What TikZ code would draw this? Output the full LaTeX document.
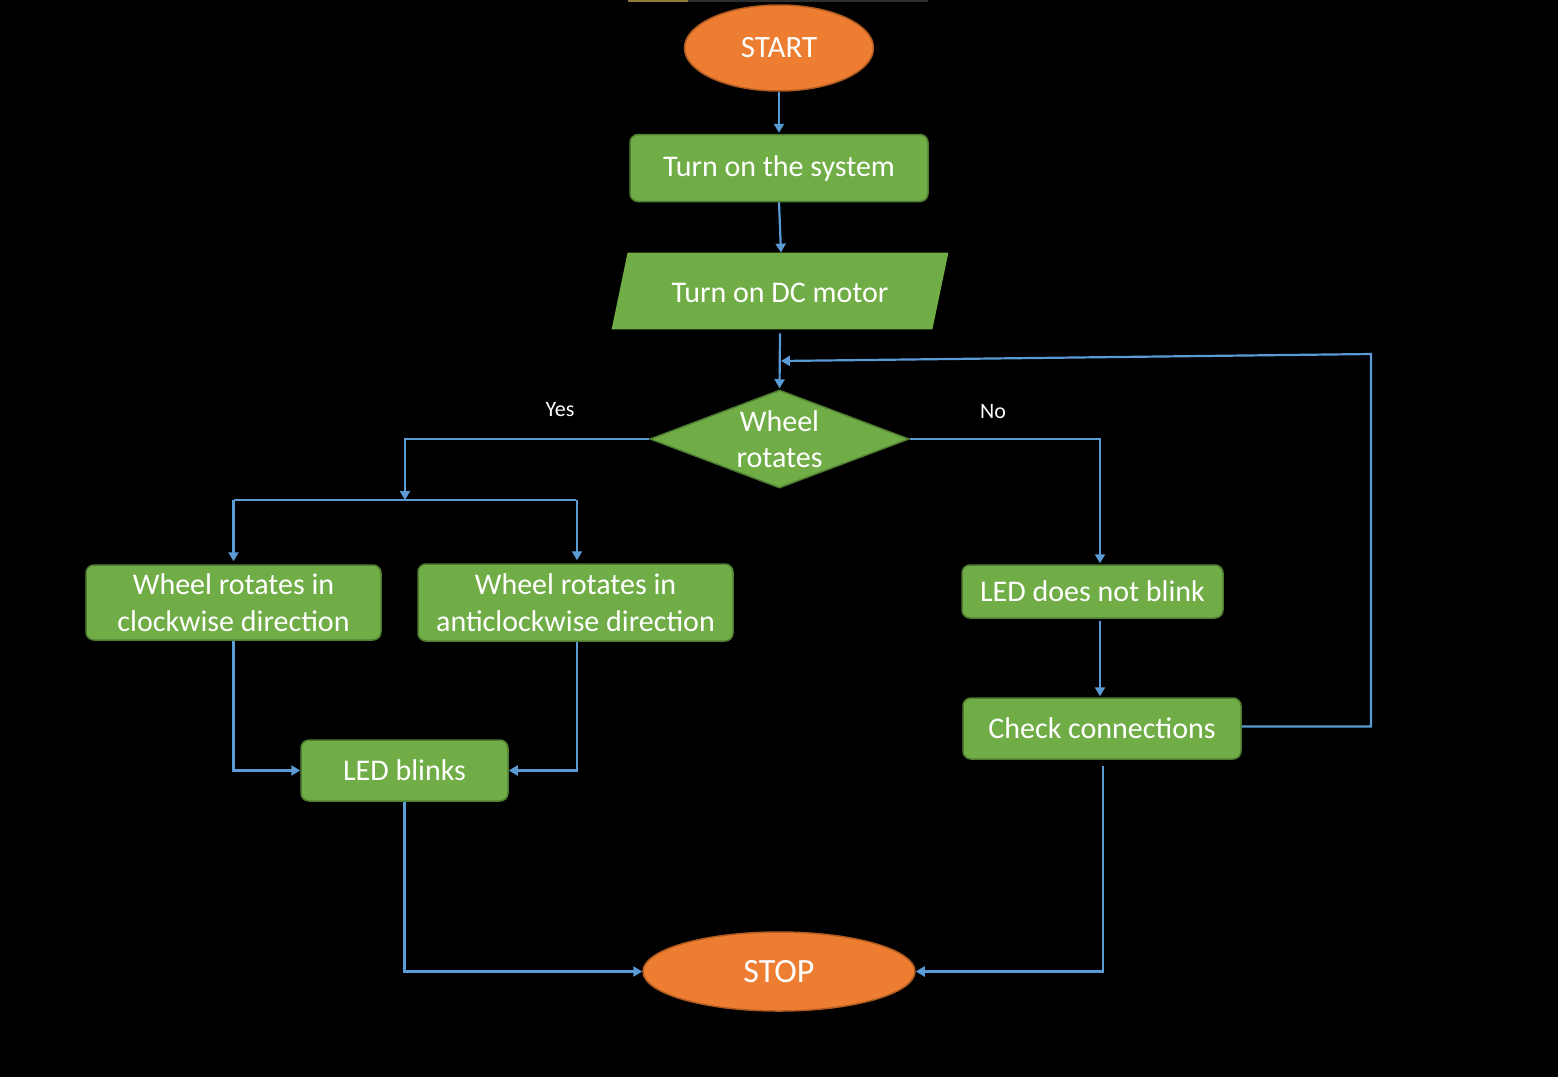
\documentclass[tikz,border=0pt]{standalone}
\usepackage{fontspec}
\setmainfont{Carlito}
\usetikzlibrary{shapes.geometric,arrows.meta}
\definecolor{bg}{HTML}{000000}
\definecolor{termfill}{HTML}{ED7D31}
\definecolor{termedge}{HTML}{AE5A21}
\definecolor{stepfill}{HTML}{70AD47}
\definecolor{stepedge}{HTML}{507E32}
\definecolor{flow}{HTML}{5B9BD5}
\definecolor{rulegold}{HTML}{8C7A3C}
\definecolor{rulegray}{HTML}{2E2E2E}
\tikzset{
  terminal/.style={ellipse, fill=termfill, draw=termedge, line width=0.75pt,
    inner sep=0pt, text=white, font=\fontsize{15.5}{18}\selectfont},
  stepbox/.style={rectangle, rounded corners=4pt, fill=stepfill, draw=stepedge,
    line width=0.75pt, inner sep=0pt, text=white, align=center,
    font=\fontsize{15}{18.5}\selectfont},
  decision/.style={diamond, fill=stepfill, draw=stepedge, line width=0.75pt,
    inner sep=0pt},
  conn/.style={draw=flow, line width=1.1pt, -{Triangle[length=4.5pt,width=5pt]}},
  plain/.style={draw=flow, line width=1.1pt},
  tag/.style={text=white, font=\fontsize{11}{13}\selectfont, inner sep=0pt},
}
\begin{document}
\begin{tikzpicture}[x=0.5pt,y=-0.5pt]
  % canvas
  \fill[bg] (0,0) rectangle (1558,1077);
  \useasboundingbox (0,0) rectangle (1558,1077);
  \fill[rulegold] (628,0) rectangle (688,2);
  \fill[rulegray] (688,0) rectangle (928,2);

  % terminals
  \node[terminal, minimum width=94.5pt, minimum height=43pt] (start) at (779,48) {START};
  \node[terminal, minimum width=136pt, minimum height=39.5pt, font=\fontsize{17}{20}\selectfont] (stop) at (779,971.5) {STOP};

  % process steps
  \node[stepbox, minimum width=149pt, minimum height=33.5pt] (sys) at (779,168) {Turn on the system};

  % input step: a frame node, the slanted body, then its caption
  \node[inner sep=0pt, minimum width=160pt, minimum height=38pt] (motor) at (780,291) {};
  \fill[stepfill] ([xshift=4pt]motor.north west) -- ([xshift=4pt]motor.north east)
     -- ([xshift=-4pt]motor.south east) -- ([xshift=-4pt]motor.south west) -- cycle;
  \node[inner sep=0pt, text=white, font=\fontsize{15}{18}\selectfont] (motortext) at ([yshift=-1pt]motor) {Turn on DC motor};

  % decision
  \node[decision, minimum width=129.5pt, minimum height=49pt,
        label={[text=white, align=center, font=\fontsize{15}{18}\selectfont]center:Wheel\\rotates}]
        (dec) at (779.5,439) {};

  \node[stepbox, minimum width=147.5pt, minimum height=37.5pt] (cw) at (233.5,602.5) {Wheel rotates in\\clockwise direction};
  \node[stepbox, minimum width=157.5pt, minimum height=38.5pt] (acw) at (575.5,602.5) {Wheel rotates in\\anticlockwise direction};
  \node[stepbox, minimum width=103.5pt, minimum height=30.5pt] (led) at (404.5,770.5) {LED blinks};
  \node[stepbox, minimum width=130.5pt, minimum height=26.5pt] (nob) at (1092.5,591.5) {LED does not blink};
  \node[stepbox, minimum width=139pt, minimum height=30.5pt] (check) at (1102,728.5) {Check connections};

  % branch labels
  \node[tag] (yes) at (560,410) {Yes};
  \node[tag] (no) at (993,412) {No};

  % routing points
  \coordinate (split) at (405,500);
  \coordinate (noturn) at (1100,439);
  \coordinate (loopTop) at (1371,354);
  \coordinate (loopEnd) at (781,361);

  % connectors
  \draw[conn] (start.south) -- ([yshift=0.5pt]sys.north);
  \draw[conn] (sys.south) -- ([xshift=0.5pt]motor.north);
  \draw[conn] ([yshift=-2pt]motor.south) -- ([yshift=0.5pt]dec.north);
  \draw[conn] ([yshift=1pt]check.east) -| (loopTop) -- (loopEnd);

  \draw[conn] (dec.west) -| (split);
  \draw[plain] (cw.north |- split) -- (acw.north |- split);
  \draw[conn] (cw.north |- split) -- ([yshift=1.5pt]cw.north);
  \draw[conn] ([xshift=0.75pt]acw.north |- split) -- ([xshift=0.75pt,yshift=1.5pt]acw.north);

  \draw[conn] (dec.east) -- (noturn) -- ([yshift=0.5pt]noturn |- nob.north);
  \draw[conn] ([yshift=-1pt]noturn |- nob.south) -- ([yshift=0.5pt]noturn |- check.north);

  \draw[conn] (cw.south) |- (led.west);
  \draw[conn] ([xshift=0.75pt]acw.south) |- (led.east);

  \draw[conn] (led.south) |- (stop.west);
  \draw[conn] ([xshift=0.5pt,yshift=-3pt]check.south) |- (stop.east);
\end{tikzpicture}
\end{document}
